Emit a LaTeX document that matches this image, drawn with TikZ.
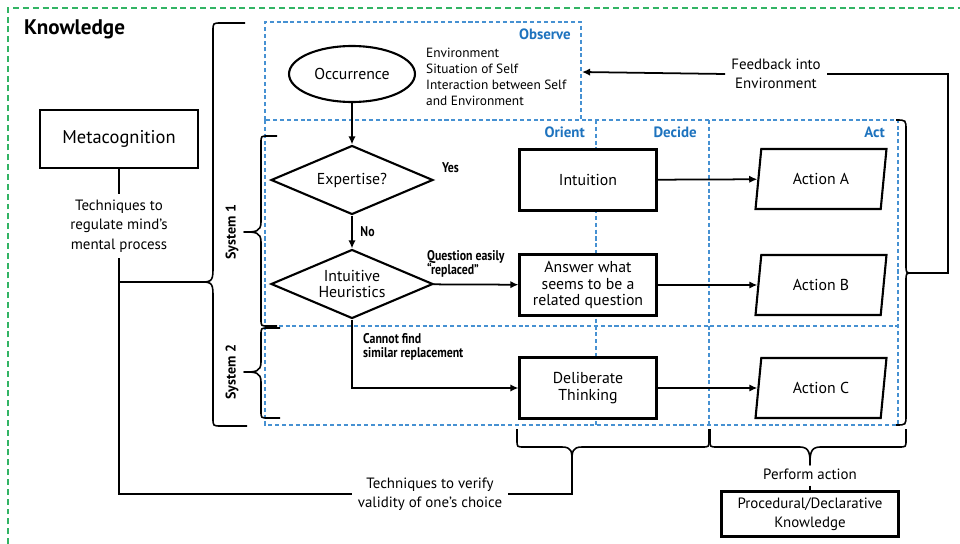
\documentclass[tikz,border=0pt]{standalone}
\usepackage{fontspec}
\setmainfont{PT Sans}
\newfontfamily\labelfont[FakeStretch=0.84]{PT Sans}
\usetikzlibrary{shapes.geometric,arrows.meta}
\definecolor{oodablue}{RGB}{30,115,190}
\definecolor{zoneblue}{RGB}{70,145,210}
\definecolor{knowgreen}{RGB}{50,180,100}

\begin{document}
\begin{tikzpicture}[x=0.02cm, y=-0.02cm, >={Latex[length=4.6pt,width=4.2pt]},
  line/.style={draw=black, line width=1pt},
  brace/.style={draw=black, line width=0.9pt, line join=round},
  box/.style={draw=black, line width=1.2pt, fill=white, align=center,
    minimum width=2.74cm, minimum height=1.22cm, inner sep=1pt,
    font=\fontsize{9}{9.6}\selectfont},
  decision/.style={diamond, draw=black, line width=1.2pt, fill=white,
    align=center, aspect=2.35, minimum width=3.24cm, minimum height=1.38cm,
    inner sep=0pt, font=\fontsize{9}{9.6}\selectfont},
  action/.style={trapezium, trapezium left angle=76, trapezium right angle=104,
    trapezium stretches body, draw=black, line width=1.2pt, fill=white,
    minimum width=2.62cm, minimum height=1.2cm, font=\fontsize{9}{10}\selectfont},
  zone/.style={draw=zoneblue, line width=0.7pt, dash pattern=on 2.3pt off 1.6pt},
  zonelabel/.style={text=oodablue, anchor=east,
    font=\bfseries\fontsize{8.5}{10}\selectfont},
  note/.style={anchor=west, align=left,
    font=\labelfont\bfseries\fontsize{8}{8.2}\selectfont},
  plain/.style={align=center, font=\fontsize{8.5}{11}\selectfont}
]
\useasboundingbox (0,0) rectangle (960,544);

% knowledge frame
\draw[knowgreen, line width=0.8pt, dash pattern=on 3.4pt off 2.2pt] (8,544) -- (8,8) -- (960,8);
\node[anchor=west, font=\bfseries\fontsize{12}{14}\selectfont] (know) at (18,29) {Knowledge};

% observe / orient / decide / act zones
\draw[zone] (265,120) -- (265,22) -- (581,22) -- (581,120);
\draw[zone] (265,120) rectangle (898,425);
\draw[zone] (596,120) -- (596,425);
\draw[zone] (709,120) -- (709,425);
\draw[zone] (265,326) -- (898,326);
\node[zonelabel] (observe) at (577,34) {Observe};
\node[zonelabel] (orient) at (591,132) {Orient};
\node[zonelabel] (decide) at (703,132) {Decide};
\node[zonelabel] (act) at (891,132) {Act};

% observe
\node[ellipse, draw=black, line width=1.2pt, minimum width=2.52cm, minimum height=1.12cm,
  font=\fontsize{9}{10}\selectfont] (occ) at (352,74) {Occurrence};
\node[anchor=west, align=left, font=\fontsize{7.6}{9}\selectfont] (env) at (420,77)
  {Environment\\Situation of Self\\Interaction between Self\\and Environment};

% system 1 and 2
\node[decision] (exp) at (352,180) {Expertise?};
\node[decision] (heur) at (352,284) {Intuitive\\Heuristics};
\node[box] (intu) at (588,180) {Intuition};
\node[box] (answer) at (588,285) {Answer what\\seems to be a\\related question};
\node[box] (delib) at (588,388) {Deliberate\\Thinking};
\node[action] (actA) at (821,179) {Action A};
\node[action] (actB) at (821,285) {Action B};
\node[action] (actC) at (821,388) {Action C};

\node[note] (yes) at (436,168) {Yes};
\draw[line,->] (occ) -- (exp);
\draw[line,->] (exp) -- (heur) node[note, midway, xshift=1pt] {No};
\node[note] (replaced) at (421,264) {Question easily\\“replaced”};
\draw[line,->] (heur) -- (answer);
\draw[line,->] (heur.south) |- (delib.west);
\node[note] (cannot) at (357,347) {Cannot find\\similar replacement};
\draw[line,->] (intu) -- (actA);
\draw[line,->] (answer) -- (actB);
\draw[line,->] (delib) -- (actC);

% braces on the left
\draw[brace] (245,23) -- (221,23) .. controls (213,23) .. (213,31) -- (213,270)
  .. controls (213,282) and (210,282) .. (200,282)
  .. controls (210,282) and (213,282) .. (213,294) -- (213,418)
  .. controls (213,426) .. (221,426) -- (247,426);
\draw[brace] (277,136) -- (268,136) .. controls (261,136) .. (261,143) -- (261,222)
  .. controls (261,232) and (255,232) .. (244,232)
  .. controls (255,232) and (261,232) .. (261,242) -- (261,319)
  .. controls (261,326) .. (268,326) -- (277,326);
\draw[brace] (280,328) -- (268,328) .. controls (261,328) .. (261,335) -- (261,362)
  .. controls (261,372) and (255,372) .. (244,372)
  .. controls (255,372) and (261,372) .. (261,382) -- (261,411)
  .. controls (261,418) .. (268,418) -- (280,418);
\node[rotate=90, font=\bfseries\fontsize{8}{9}\selectfont] (sys1) at (232,232) {System 1};
\node[rotate=90, font=\bfseries\fontsize{8}{9}\selectfont] (sys2) at (232,372) {System 2};

% brace on the right and feedback
\draw[brace] (896,120) .. controls (906,120) .. (906,130) -- (906,265)
  .. controls (906,273) .. (912,273)
  .. controls (906,273) .. (906,281) -- (906,415)
  .. controls (906,425) .. (896,425);
\coordinate (rtip) at (912,273);
\coordinate (obsedge) at (582,72);
\node[plain, font=\fontsize{8.5}{10.6}\selectfont] (feedback) at (776,74) {Feedback into\\Environment};
\draw[line] (rtip) -- (948,273) |- (feedback.east);
\draw[line,->] (feedback.west) -- (obsedge);

% metacognition
\node[box, minimum width=3.16cm, minimum height=1.16cm,
  font=\fontsize{10.5}{12}\selectfont] (meta) at (119,139) {Metacognition};
\node[plain] (regulate) at (119,226) {Techniques to\\regulate mind’s\\mental process};
\coordinate (ktip) at (200,282);
\coordinate (kjoin) at (119,282);
\draw[line] (meta) -- (regulate);
\draw[line] (kjoin) -- (ktip);

% bottom braces
\draw[brace] (517,429) -- (517,440) .. controls (517,447) .. (524,447) -- (562,447)
  .. controls (572,447) and (572,452) .. (572,462)
  .. controls (572,452) and (572,447) .. (582,447) -- (702,447)
  .. controls (709,447) .. (709,440) -- (709,429);
\draw[brace] (710,429) -- (710,440) .. controls (710,447) .. (717,447) -- (800,447)
  .. controls (810,447) and (810,455) .. (810,465)
  .. controls (810,455) and (810,447) .. (820,447) -- (899,447)
  .. controls (906,447) .. (906,440) -- (906,429);
\coordinate (odtip) at (572,462);

\node[plain, font=\fontsize{8.5}{10.6}\selectfont] (verify) at (430,494) {Techniques to verify\\validity of one’s choice};
\draw[line] (regulate.south) |- (verify.west);
\draw[line] (verify.east) -| (odtip);

\node[plain] (perform) at (810,474) {Perform action};
\node[box, minimum width=3.54cm, minimum height=0.9cm, font=\fontsize{8.5}{10.6}\selectfont]
  (proc) at (810,514) {Procedural/Declarative\\Knowledge};
\draw[line] (perform) -- (proc);
\end{tikzpicture}
\end{document}
